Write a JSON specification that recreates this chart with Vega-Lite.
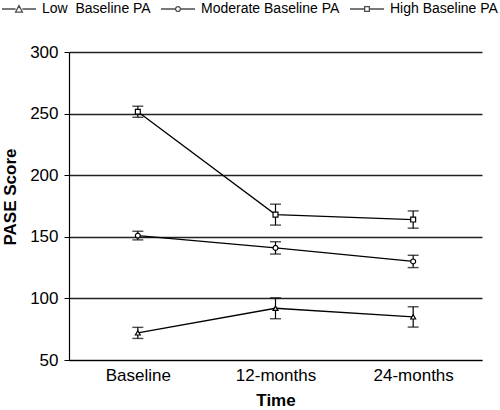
{
  "$schema": "https://vega.github.io/schema/vega-lite/v6.json",
  "width": 413,
  "height": 308,
  "autosize": {"type": "none"},
  "padding": {"left": 69, "top": 52, "right": 18, "bottom": 50},
  "background": "white",
  "config": {
    "view": {"stroke": null},
    "font": "Liberation Sans",
    "axis": {"labelColor": "black", "titleColor": "black", "domainColor": "black", "tickColor": "black"}
  },
  "data": {
    "values": [
      {"series": "High Baseline PA", "time": "Baseline", "mean": 251.5, "lo": 247, "hi": 256},
      {"series": "High Baseline PA", "time": "12-months", "mean": 168, "lo": 159.5, "hi": 176.5},
      {"series": "High Baseline PA", "time": "24-months", "mean": 164, "lo": 157, "hi": 171},
      {"series": "Moderate Baseline PA", "time": "Baseline", "mean": 151, "lo": 147.5, "hi": 154.5},
      {"series": "Moderate Baseline PA", "time": "12-months", "mean": 141, "lo": 136, "hi": 146},
      {"series": "Moderate Baseline PA", "time": "24-months", "mean": 130, "lo": 125, "hi": 135},
      {"series": "Low\u00a0 Baseline PA", "time": "Baseline", "mean": 72, "lo": 67.5, "hi": 76.5},
      {"series": "Low\u00a0 Baseline PA", "time": "12-months", "mean": 92, "lo": 83.5, "hi": 100.5},
      {"series": "Low\u00a0 Baseline PA", "time": "24-months", "mean": 85, "lo": 76.7, "hi": 93.2}
    ]
  },
  "encoding": {
    "x": {
      "field": "time", "type": "nominal",
      "sort": ["Baseline", "12-months", "24-months"],
      "scale": {"type": "point", "padding": 0.5},
      "axis": {"title": "Time", "labelAngle": 0, "labelFontSize": 17, "titleFontSize": 17, "titleFontWeight": "bold", "ticks": false, "tickSize": 0, "labelPadding": 7, "titlePadding": 9, "grid": false, "domainWidth": 1.2}
    },
    "y": {
      "field": "mean", "type": "quantitative",
      "scale": {"domain": [50, 300], "nice": false, "zero": false},
      "axis": {"title": "PASE Score", "titleY": 144.5, "values": [50, 100, 150, 200, 250, 300], "labelFontSize": 17, "titleFontSize": 17, "titleFontWeight": "bold", "tickSize": 5, "labelPadding": 6, "titlePadding": 10, "grid": true, "gridColor": "#222", "gridWidth": 1.4, "domainWidth": 1.2}
    }
  },
  "layer": [
    {
      "mark": {"type": "line", "color": "black", "strokeWidth": 1.3},
      "encoding": {"detail": {"field": "series"}}
    },
    {
      "mark": {"type": "rule", "color": "black", "strokeWidth": 1.2},
      "encoding": {"y": {"field": "lo", "type": "quantitative"}, "y2": {"field": "hi"}}
    },
    {
      "mark": {"type": "tick", "color": "black", "orient": "horizontal", "size": 11, "thickness": 1.4},
      "encoding": {"y": {"field": "lo", "type": "quantitative"}}
    },
    {
      "mark": {"type": "tick", "color": "black", "orient": "horizontal", "size": 11, "thickness": 1.4},
      "encoding": {"y": {"field": "hi", "type": "quantitative"}}
    },
    {
      "mark": {"type": "point", "filled": true, "fill": "white", "stroke": "black", "strokeWidth": 1.2, "size": 24, "opacity": 1},
      "encoding": {
        "shape": {
          "field": "series", "type": "nominal",
          "scale": {"domain": ["Low\u00a0 Baseline PA", "Moderate Baseline PA", "High Baseline PA"], "range": ["triangle-up", "circle", "square"]},
          "legend": null
        }
      }
    },
    {
      "transform": [{"filter": "false"}],
      "mark": {"type": "point", "filled": false, "stroke": "black"},
      "encoding": {
        "shape": {
          "field": "series", "type": "nominal",
          "scale": {
            "domain": ["Low\u00a0 Baseline PA", "Moderate Baseline PA", "High Baseline PA"],
            "range": [
              "M-1,0H-0.2M0.2,0H1M-0.2,0.18L0,-0.2L0.2,0.18Z",
              "M-1,0H-0.14M0.14,0H1M0.14,0A0.14,0.14 0 1,1 -0.14,0A0.14,0.14 0 1,1 0.14,0Z",
              "M-1,0H-0.14M0.14,0H1M-0.14,-0.14H0.14V0.14H-0.14Z"
            ]
          },
          "legend": {
            "title": null,
            "orient": "none",
            "direction": "horizontal",
            "legendX": -68,
            "legendY": -61,
            "gridAlign": "none",
            "symbolSize": 1156,
            "symbolStrokeColor": "black",
            "symbolFillColor": "white",
            "symbolStrokeWidth": 1.3,
            "labelFontSize": 14,
            "labelColor": "black",
            "labelOffset": 5,
            "labelLimit": 200,
            "columnPadding": 7
          }
        }
      }
    }
  ],
  "resolve": {"scale": {"shape": "independent"}}
}
